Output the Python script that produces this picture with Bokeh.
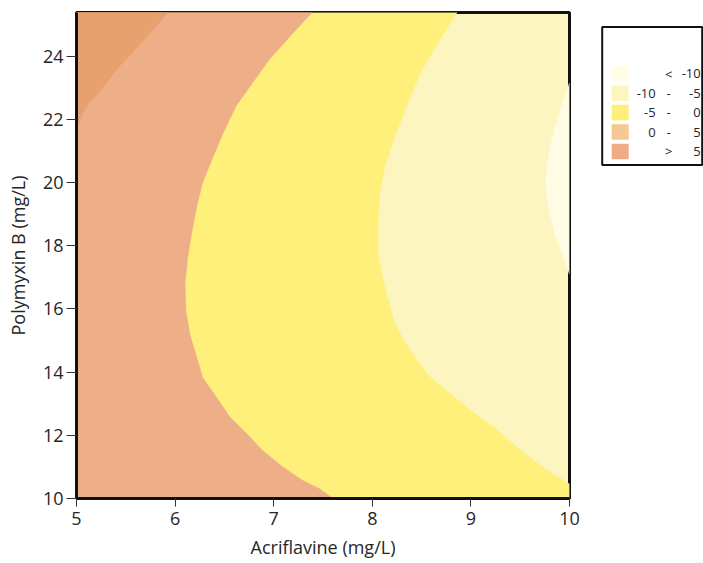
from bokeh.plotting import figure
from bokeh.models import Range1d, FixedTicker, ColumnDataSource
from bokeh.layouts import row
from bokeh.core.properties import value
from bokeh.embed import file_html
from bokeh.resources import INLINE

# ---------------- data ----------------
X_MIN, X_MAX = 5.0, 10.0
Y_MIN, Y_MAX = 10.0, 25.38

x_ticks = [5, 6, 7, 8, 9, 10]
y_ticks = [10, 12, 14, 16, 18, 20, 22, 24]

# contour boundary between the top-left darkest zone and the orange zone
b1_x = [5.93, 5.81, 5.69, 5.57, 5.44, 5.33, 5.23, 5.13, 5.05, 5.00]
b1_y = [25.38, 24.96, 24.54, 24.11, 23.69, 23.27, 22.85, 22.53, 22.11, 21.69]

# contour boundary orange / yellow
b2_x = [7.39, 7.17, 6.96, 6.79, 6.62, 6.49, 6.39, 6.28, 6.22, 6.17, 6.13,
        6.10, 6.11, 6.15, 6.22, 6.28, 6.42, 6.56, 6.73, 6.89, 7.10, 7.30, 7.47, 7.60]
b2_y = [25.38, 24.64, 23.91, 23.17, 22.43, 21.58, 20.85, 20.00, 19.26, 18.42, 17.68,
        16.79, 15.94, 15.20, 14.46, 13.83, 13.20, 12.56, 12.04, 11.51, 10.98, 10.56, 10.30, 10.00]

# contour boundary yellow / light yellow
b3_x = [8.86, 8.69, 8.49, 8.35, 8.22, 8.13, 8.08, 8.06, 8.06, 8.12, 8.22, 8.32,
        8.46, 8.59, 8.80, 9.00, 9.24, 9.51, 9.78, 10.00]
b3_y = [25.38, 24.54, 23.48, 22.43, 21.37, 20.53, 19.79, 18.73, 17.68, 16.79, 15.62, 14.99,
        14.36, 13.83, 13.30, 12.78, 12.25, 11.51, 10.88, 10.46]

# contour boundary light yellow / palest zone (right edge)
b4_x = [10.00, 9.96, 9.92, 9.86, 9.81, 9.78, 9.76, 9.77, 9.81, 9.86, 9.92, 9.97, 10.00]
b4_y = [23.15, 22.80, 22.40, 21.80, 21.20, 20.70, 20.10, 19.50, 18.90, 18.30, 17.80, 17.35, 17.10]

zone_colors = {
    "palest": "#FFFBE5",
    "light_yellow": "#FDF5BF",
    "yellow": "#FEF07A",
    "orange": "#EEAE88",
    "dark_orange": "#E8A06F",
}

legend_colors = ["#FFFDE6", "#FDF5C0", "#FEEF7B", "#F6C693", "#EFAA86"]
legend_lo = ["", "-10", "-5", "0", ""]
legend_op = ["<", "-", "-", "-", ">"]
legend_hi = ["-10", "-5", "0", "5", "5"]

FONT = "Open Sans"
TXT = "#262626"

# ---------------- main contour plot ----------------
p = figure(width=598, height=563,
           x_range=Range1d(X_MIN, X_MAX), y_range=Range1d(Y_MIN, Y_MAX),
           output_backend="svg", toolbar_location=None,
           min_border_left=76, min_border_right=29,
           min_border_top=12, min_border_bottom=65)
p.background_fill_color = zone_colors["light_yellow"]
p.border_fill_color = "white"
p.grid.visible = False

yellow_xs = b3_x + [X_MAX, X_MIN, X_MIN]
yellow_ys = b3_y + [Y_MIN, Y_MIN, b3_y[0]]
orange_xs = b2_x + [X_MIN, X_MIN]
orange_ys = b2_y + [Y_MIN, b2_y[0]]
dark_xs = b1_x + [X_MIN]
dark_ys = b1_y + [b1_y[0]]
pale_xs = list(b4_x)
pale_ys = list(b4_y)

src = ColumnDataSource(dict(
    xs=[yellow_xs, orange_xs, dark_xs, pale_xs],
    ys=[yellow_ys, orange_ys, dark_ys, pale_ys],
    color=[zone_colors["yellow"], zone_colors["orange"],
           zone_colors["dark_orange"], zone_colors["palest"]],
))
p.patches("xs", "ys", source=src, fill_color="color", line_color="color", line_width=0.5)

p.outline_line_color = "#111111"
p.outline_line_width = 3
p.outline_line_alpha = 1

p.xaxis.ticker = FixedTicker(ticks=x_ticks)
p.yaxis.ticker = FixedTicker(ticks=y_ticks)
p.xaxis.axis_label = "Acriflavine (mg/L)"
p.yaxis.axis_label = "Polymyxin B (mg/L)"
for ax in (p.xaxis, p.yaxis):
    ax.axis_line_color = "#111111"
    ax.axis_line_width = 3
    ax.major_tick_in = 0
    ax.minor_tick_line_color = None
    ax.major_tick_line_color = "#333333"
    ax.major_tick_line_width = 1
    ax.major_label_text_font = FONT
    ax.major_label_text_font_size = "18px"
    ax.major_label_text_color = TXT
    ax.axis_label_text_font = FONT
    ax.axis_label_text_font_size = "18px"
    ax.axis_label_text_font_style = "normal"
    ax.axis_label_text_color = TXT
p.xaxis.major_tick_out = 8
p.xaxis.major_label_standoff = 5
p.xaxis.axis_label_standoff = 7
p.yaxis.major_tick_out = 10
p.yaxis.major_label_standoff = 3
p.yaxis.axis_label_standoff = 10

# ---------------- legend panel ----------------
LW, LH = 105, 563
lg = figure(width=LW, height=LH, x_range=Range1d(0, LW), y_range=Range1d(LH, 0),
            output_backend="svg", toolbar_location=None,
            x_axis_type=None, y_axis_type=None, min_border=0)
lg.grid.visible = False
lg.outline_line_color = None
lg.background_fill_color = "white"
lg.border_fill_color = "white"

box_l, box_r, box_t, box_b = 3.7, 103.7, 16.7, 176.7
lg.quad(left=[box_l], right=[box_r], top=[box_t], bottom=[box_b],
        fill_color=None, line_color="#111111", line_width=2)

row_y = [71 + 22.5 * i for i in range(len(legend_colors))]
n = len(legend_colors)
lsrc = ColumnDataSource(dict(
    y=row_y, color=legend_colors, lo=legend_lo, op=legend_op, hi=legend_hi,
    sx=[box_l + 18] * n, lox=[box_l + 53.5] * n, opx=[box_l + 66.5] * n, hix=[box_r - 1.5] * n,
))
lg.rect(x="sx", y="y", width=17, height=18, fill_color="color", line_color=None, source=lsrc)
common = dict(text_baseline="middle", text_font=value(FONT), text_font_size="13px",
              text_color=TXT, source=lsrc)
lg.text(x="lox", y="y", text="lo", text_align="right", **common)
lg.text(x="opx", y="y", text="op", text_align="center", **common)
lg.text(x="hix", y="y", text="hi", text_align="right", **common)

layout = row(p, lg)
open("out.html", "w").write(file_html(layout, INLINE))
